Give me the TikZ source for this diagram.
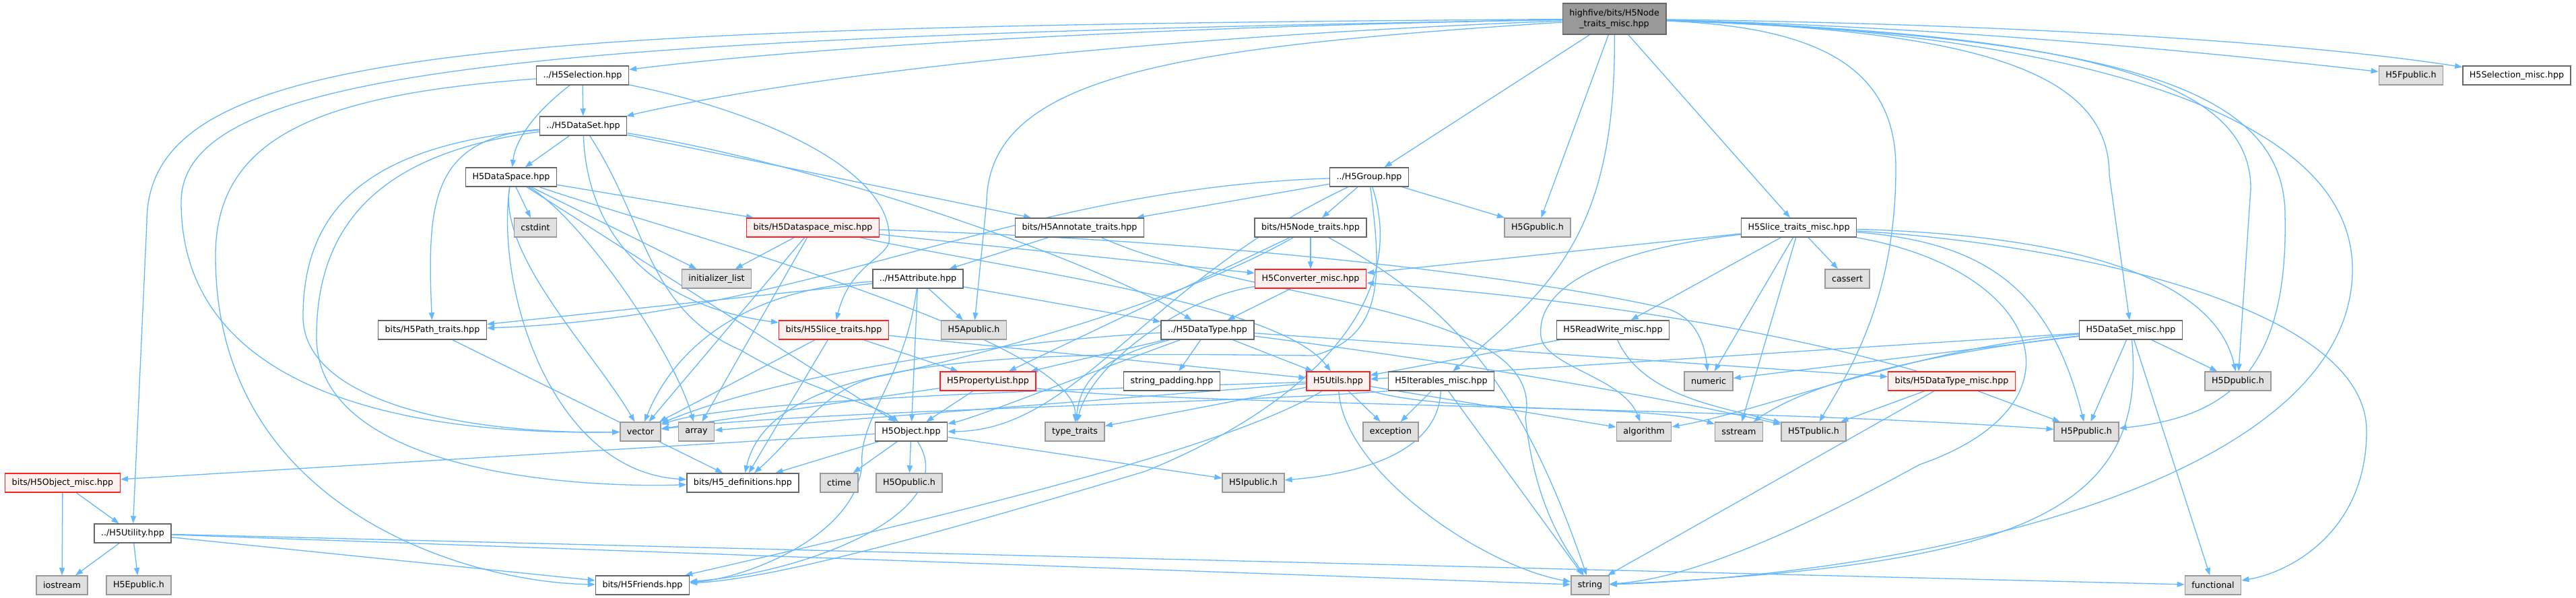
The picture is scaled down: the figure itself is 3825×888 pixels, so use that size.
\documentclass[tikz,border=0pt]{standalone}
\usepackage{fontspec}
\setmainfont{DejaVu Sans}
\usetikzlibrary{arrows.meta}
\definecolor{edgec}{HTML}{63B8FF}
\definecolor{redb}{HTML}{FF2020}
\definecolor{redf}{HTML}{FFF0F0}
\pgfdeclarelayer{bg}
\pgfdeclarelayer{paper}
\pgfsetlayers{paper,bg,main}
\begin{document}
\begin{tikzpicture}[x=1pt,y=-1pt,font=\fontsize{12.7}{16}\selectfont,
  nb/.style={draw=black!60,line width=1.5pt,fill=white,minimum height=28pt,inner xsep=10pt,inner ysep=0pt},
  ng/.style={nb,draw=black!40,fill=black!12},
  nr/.style={nb,draw=redb,fill=redf},
  nm/.style={nb,fill=black!40,minimum height=46pt,align=center},
  conn/.style={draw=edgec,line width=1.3pt,-{Triangle[length=11pt,width=8pt]}}]
\useasboundingbox (0,0) rectangle (3825,888);
\begin{pgfonlayer}{paper}
\fill[white] (0,0) rectangle (3825,888);
\end{pgfonlayer}
% nodes
\node[nm] (main) at (2397,28) {highfive/bits/H5Node\\\_traits\_misc.hpp};
\node[nb] (sel) at (865,112) {../H5Selection.hpp};
\node[nb] (ds) at (866,187) {../H5DataSet.hpp};
\node[nb] (dsp) at (759,263) {H5DataSpace.hpp};
\node[ng] (cstdint) at (795,338) {cstdint};
\node[nr] (dspm) at (1207,338) {bits/H5Dataspace\_misc.hpp};
\node[ng] (initl) at (1064,414) {initializer\_list};
\node[nb] (patht) at (642,490) {bits/H5Path\_traits.hpp};
\node[ng] (vector) at (951,641) {vector};
\node[ng] (array) at (1034,641) {array};
\node[nr] (slt) at (1238,490) {bits/H5Slice\_traits.hpp};
\node[nr] (objm) at (93,717) {bits/H5Object\_misc.hpp};
\node[nb] (defs) at (1103,717) {bits/H5\_definitions.hpp};
\node[ng] (ctime) at (1246,717) {ctime};
\node[nb] (util) at (197,792) {../H5Utility.hpp};
\node[ng] (iostream) at (92,869) {iostream};
\node[ng] (epub) at (206,869) {H5Epublic.h};
\node[nb] (friends) at (954,869) {bits/H5Friends.hpp};
\node[nb] (grp) at (2033,263) {../H5Group.hpp};
\node[nb] (annot) at (1603,338) {bits/H5Annotate\_traits.hpp};
\node[nb] (nt) at (1946,338) {bits/H5Node\_traits.hpp};
\node[ng] (gpub) at (2283,338) {H5Gpublic.h};
\node[nb] (attr) at (1363,414) {../H5Attribute.hpp};
\node[nr] (conv) at (1946,414) {H5Converter\_misc.hpp};
\node[ng] (apub) at (1446,490) {H5Apublic.h};
\node[nb] (dt) at (1793,490) {../H5DataType.hpp};
\node[nb] (rw) at (2395,490) {H5ReadWrite\_misc.hpp};
\node[nr] (pl) at (1467,566) {H5PropertyList.hpp};
\node[nb] (sp) at (1740,566) {string\_padding.hpp};
\node[nr] (ut) at (1987,566) {H5Utils.hpp};
\node[nb] (itm) at (2140,566) {H5Iterables\_misc.hpp};
\node[ng] (numeric) at (2537,566) {numeric};
\node[nb] (obj) at (1353,641) {H5Object.hpp};
\node[ng] (tt) at (1596,641) {type\_traits};
\node[ng] (exc) at (2065,641) {exception};
\node[ng] (alg) at (2441,641) {algorithm};
\node[ng] (opub) at (1350,717) {H5Opublic.h};
\node[ng] (ipub) at (1861,717) {H5Ipublic.h};
\node[ng] (string) at (2361,869) {string};
\node[ng] (fpub) at (3580,112) {H5Fpublic.h};
\node[nb] (selm) at (3737,112) {H5Selection\_misc.hpp};
\node[nb] (sltm) at (2671,338) {H5Slice\_traits\_misc.hpp};
\node[ng] (cassert) at (2743,414) {cassert};
\node[nb] (dsm) at (3164,490) {H5DataSet\_misc.hpp};
\node[nr] (dtm) at (2898,566) {bits/H5DataType\_misc.hpp};
\node[ng] (dpub) at (3323,566) {H5Dpublic.h};
\node[ng] (sstream) at (2582,641) {sstream};
\node[ng] (tpub) at (2693,641) {H5Tpublic.h};
\node[ng] (ppub) at (3098,641) {H5Ppublic.h};
\node[ng] (functional) at (3286,869) {functional};
% edges
\begin{pgfonlayer}{bg}
% main
\draw[conn] (main) .. controls (1700,40) and (1200,70) .. (sel);
\draw[conn] (main) .. controls (1700,55) and (1200,110) .. (ds);
\draw[conn] (main) -- (grp);
\draw[conn] (main) .. controls (700,40) and (218,70) .. (218,330) -- (util);
\draw[conn] (main) .. controls (800,55) and (269,100) .. (269,300) .. controls (269,620) and (700,645) .. (vector);
\draw[conn] (main) .. controls (1750,70) and (1468,110) .. (1465,300) -- (apub);
\draw[conn] (main) .. controls (2400,350) and (2300,430) .. (itm);
\draw[conn] (main) .. controls (2900,40) and (3493,120) .. (3493,400) .. controls (3493,700) and (2900,850) .. (string);
\draw[conn] (main) .. controls (2700,40) and (2815,100) .. (2815,250) .. controls (2815,450) and (2740,560) .. (tpub);
\draw[conn] (main) .. controls (2950,45) and (3132,110) .. (3132,260) -- (dsm);
\draw[conn] (main) .. controls (3100,50) and (3342,120) .. (3342,280) -- (dpub);
\draw[conn] (main) .. controls (3150,55) and (3393,130) .. (3393,320) .. controls (3398,560) and (3300,620) .. (ppub);
\draw[conn] (main) .. controls (2900,40) and (3300,80) .. (fpub);
\draw[conn] (main) .. controls (2950,35) and (3400,60) .. (selm);
\draw[conn] (main) -- (sltm);
\draw[conn] (main) -- (gpub);
% selection
\draw[conn] (sel) -- (ds);
\draw[conn] (sel) .. controls (790,170) and (765,210) .. (dsp);
\draw[conn] (sel) .. controls (1150,170) and (1330,260) .. (1320,360) .. controls (1312,385) and (1262,395) .. (slt);
\draw[conn] (sel) .. controls (480,140) and (320,200) .. (320,380) .. controls (320,760) and (700,865) .. (friends);
% dataset
\draw[conn] (ds) -- (dsp);
\draw[conn] (ds) .. controls (560,215) and (450,300) .. (450,470) .. controls (450,600) and (700,645) .. (vector);
\draw[conn] (ds) .. controls (580,225) and (470,320) .. (470,500) .. controls (470,700) and (850,725) .. (defs);
\draw[conn] (ds) .. controls (640,205) and (634,300) .. (patht);
\draw[conn] (ds) .. controls (870,320) and (940,450) .. (slt);
\draw[conn] (ds) .. controls (960,330) and (960,460) .. (1100,520) .. controls (1200,580) and (1300,600) .. (obj);
\draw[conn] (ds) .. controls (1250,250) and (1650,400) .. (dt);
\draw[conn] (ds) -- (annot);
% dataspace
\draw[conn] (dsp) -- (cstdint);
\draw[conn] (dsp) -- (dspm);
\draw[conn] (dsp) -- (initl);
\draw[conn] (dsp) .. controls (740,380) and (880,520) .. (vector);
\draw[conn] (dsp) .. controls (860,320) and (1000,520) .. (array);
\draw[conn] (dsp) .. controls (950,330) and (1600,500) .. (tt);
\draw[conn] (dsp) -- (obj);
\draw[conn] (dsp) .. controls (735,430) and (820,700) .. (defs);
% dataspace_misc
\draw[conn] (dspm) -- (initl);
\draw[conn] (dspm) -- (array);
\draw[conn] (dspm) -- (vector);
\draw[conn] (dspm) .. controls (1900,360) and (2300,420) .. (2460,455) .. controls (2510,462) and (2530,500) .. (numeric);
\draw[conn] (dspm) .. controls (1500,400) and (1900,450) .. (ut);
\draw[conn] (dspm) -- (conv);
% converter
\draw[conn] (conv) -- (dt);
\draw[conn] (conv) .. controls (1760,440) and (1620,540) .. (tt);
% utils
\draw[conn] (ut) -- (alg);
\draw[conn] (ut) -- (array);
\draw[conn] (ut) -- (exc);
\draw[conn] (ut) .. controls (1995,700) and (2200,840) .. (string);
\draw[conn] (ut) -- (tt);
\draw[conn] (ut) .. controls (1700,575) and (1100,590) .. (vector);
\draw[conn] (ut) .. controls (2150,615) and (2450,600) .. (sstream);
\draw[conn] (ut) .. controls (1800,680) and (1250,800) .. (friends);
% datatype
\draw[conn] (dt) .. controls (1640,530) and (1605,560) .. (tt);
\draw[conn] (dt) .. controls (1450,510) and (1150,560) .. (vector);
\draw[conn] (dt) .. controls (2100,530) and (2400,575) .. (tpub);
\draw[conn] (dt) .. controls (1600,560) and (1450,620) .. (obj);
\draw[conn] (dt) -- (ut);
\draw[conn] (dt) -- (sp);
\draw[conn] (dt) -- (pl);
\draw[conn] (dt) -- (dtm);
% property list
\draw[conn] (pl) -- (vector);
\draw[conn] (pl) .. controls (1700,600) and (2600,605) .. (ppub);
\draw[conn] (pl) -- (obj);
% object
\draw[conn] (obj) -- (ctime);
\draw[conn] (obj) -- (ipub);
\draw[conn] (obj) -- (opub);
\draw[conn] (obj) -- (defs);
\draw[conn] (obj) .. controls (1430,760) and (1200,850) .. (friends);
\draw[conn] (obj) -- (objm);
\draw[conn] (objm) -- (iostream);
\draw[conn] (objm) -- (util);
% utility
\draw[conn] (util) -- (epub);
\draw[conn] (util) -- (iostream);
\draw[conn] (util) -- (friends);
\draw[conn] (util) -- (string);
\draw[conn] (util) -- (functional);
% path / slice traits
\draw[conn] (patht) -- (defs);
\draw[conn] (slt) -- (vector);
\draw[conn] (slt) -- (defs);
\draw[conn] (slt) -- (ut);
\draw[conn] (slt) -- (pl);
% annotate / attribute
\draw[conn] (annot) -- (attr);
\draw[conn] (annot) .. controls (1850,450) and (2300,450) .. (2265,620) .. controls (2280,760) and (2330,820) .. (string);
\draw[conn] (attr) -- (apub);
\draw[conn] (attr) .. controls (1100,430) and (1000,520) .. (vector);
\draw[conn] (attr) -- (dt);
\draw[conn] (attr) -- (obj);
\draw[conn] (attr) .. controls (1345,560) and (1275,620) .. (1280,690) .. controls (1270,800) and (1100,860) .. (friends);
\draw[conn] (attr) -- (patht);
% group
\draw[conn] (grp) -- (gpub);
\draw[conn] (grp) -- (annot);
\draw[conn] (grp) -- (nt);
\draw[conn] (grp) .. controls (1500,280) and (1200,470) .. (patht);
\draw[conn] (grp) .. controls (1700,420) and (1600,640) .. (obj);
\draw[conn] (grp) .. controls (2100,470) and (1900,620) .. (1700,700) .. controls (1400,790) and (1150,860) .. (friends);
\draw[conn] (grp) .. controls (2050,400) and (2060,500) .. (1950,528) .. controls (1600,525) and (1150,510) .. (defs);
% node traits
\draw[conn] (nt) -- (conv);
\draw[conn] (nt) -- (pl);
\draw[conn] (nt) .. controls (1750,450) and (1450,530) .. (1300,560) .. controls (1220,580) and (1180,650) .. (defs);
\draw[conn] (nt) .. controls (2150,450) and (2255,560) .. (string);
% slice traits misc
\draw[conn] (sltm) -- (conv);
\draw[conn] (sltm) .. controls (2400,370) and (2280,420) .. (2288,500) .. controls (2295,545) and (2410,560) .. (alg);
\draw[conn] (sltm) -- (cassert);
\draw[conn] (sltm) .. controls (3050,360) and (3514,450) .. (3514,640) .. controls (3514,790) and (3400,850) .. (functional);
\draw[conn] (sltm) -- (numeric);
\draw[conn] (sltm) -- (sstream);
\draw[conn] (sltm) .. controls (3030,400) and (3110,600) .. (2850,690) .. controls (2650,800) and (2500,860) .. (string);
\draw[conn] (sltm) .. controls (3100,350) and (3290,420) .. (dpub);
\draw[conn] (sltm) .. controls (2950,360) and (3045,430) .. (ppub);
\draw[conn] (sltm) -- (rw);
% dataset misc
\draw[conn] (dsm) -- (ut);
\draw[conn] (dsm) -- (numeric);
\draw[conn] (dsm) .. controls (2900,520) and (2700,560) .. (sstream);
\draw[conn] (dsm) .. controls (2850,515) and (2620,610) .. (alg);
\draw[conn] (dsm) .. controls (3190,760) and (3000,840) .. (string);
\draw[conn] (dsm) -- (functional);
\draw[conn] (dsm) -- (dpub);
\draw[conn] (dsm) -- (ppub);
% readwrite
\draw[conn] (rw) -- (ut);
\draw[conn] (rw) .. controls (2440,590) and (2560,605) .. (tpub);
% datatype misc
\draw[conn] (dtm) -- (tpub);
\draw[conn] (dtm) -- (ppub);
\draw[conn] (dtm) -- (string);
\draw[conn] (dtm) .. controls (2600,480) and (2300,440) .. (conv);
% iterables
\draw[conn] (itm) -- (exc);
\draw[conn] (itm) .. controls (2135,680) and (2000,705) .. (ipub);
\draw[conn] (itm) -- (string);
\draw[conn] (itm.south west) .. controls (1800,600) and (1200,610) .. (vector);
\end{pgfonlayer}
\end{tikzpicture}
\end{document}
